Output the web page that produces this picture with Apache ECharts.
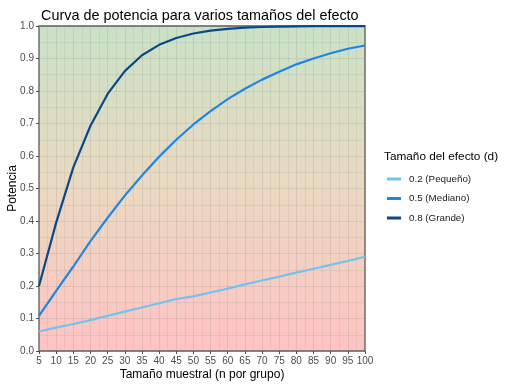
<!DOCTYPE html>
<html>
<head>
<meta charset="utf-8">
<script src="https://cdn.jsdelivr.net/npm/echarts@6/dist/echarts.min.js"></script>
<style>html,body{margin:0;padding:0;background:#fff}#c{width:516px;height:386px}</style>
</head>
<body>
<div id="c"></div>
<script>
const nValues = [5,10,15,20,25,30,35,40,45,50,55,60,65,70,75,80,85,90,95,100];
const powerSmall  = [0.060,0.072,0.083,0.095,0.108,0.121,0.134,0.147,0.160,0.168,0.180,0.192,0.205,0.217,0.229,0.241,0.253,0.265,0.277,0.290];
const powerMedium = [0.108,0.185,0.260,0.338,0.410,0.478,0.540,0.598,0.650,0.697,0.738,0.775,0.807,0.835,0.859,0.882,0.900,0.916,0.930,0.940];
const powerLarge  = [0.200,0.395,0.565,0.693,0.791,0.861,0.910,0.942,0.963,0.977,0.986,0.991,0.995,0.997,0.998,0.999,0.9994,0.9997,0.9998,0.9999];
const seriesNames = ['0.2 (Pequeño)','0.5 (Mediano)','0.8 (Grande)'];
const seriesColors = ['#74c3ef','#1e86e6','#0b4888'];
const yTicks = [0,0.1,0.2,0.3,0.4,0.5,0.6,0.7,0.8,0.9,1.0];

const chart = echarts.init(document.getElementById('c'), null, {renderer:'canvas'});
const pair = arr => nValues.map((n,i)=>[n,arr[i]]);
const allData = [powerSmall, powerMedium, powerLarge];
const fontFam = 'Liberation Sans, Arial, sans-serif';

chart.setOption({
  animation:false,
  backgroundColor:'#ffffff',
  title:{
    text:'Curva de potencia para varios tamaños del efecto',
    left:36, top:4,
    textStyle:{fontFamily:fontFam,fontSize:14.4,fontWeight:'normal',color:'#000'}
  },
  grid:{
    left:39, top:26, width:326, height:325,
    outerBoundsMode:'none', containLabel:false,
    show:true,
    borderColor:'#595959', borderWidth:1.3,
    backgroundColor:{type:'linear',x:0,y:0,x2:0,y2:1,colorStops:[
      {offset:0,color:'#c9e2c7'},
      {offset:0.5,color:'#ead9c1'},
      {offset:1,color:'#ffc3c3'}
    ]}
  },
  legend:{
    orient:'vertical',
    left:382, top:169,
    itemWidth:14, itemHeight:3, itemGap:9.5,
    icon:'rect',
    data:seriesNames,
    textStyle:{fontFamily:fontFam,fontSize:9.8,color:'#1a1a1a',padding:[0,0,0,3]}
  },
  graphic:[{
    type:'text', left:384, top:151,
    style:{text:'Tamaño del efecto (d)',fontFamily:fontFam,fontSize:11.8,fill:'#000'}
  }],
  xAxis:{
    type:'value', min:5, max:100, interval:5,
    name:'Tamaño muestral (n por grupo)', nameLocation:'middle', nameGap:18,
    nameMoveOverlap:false,
    nameTextStyle:{fontFamily:fontFam,fontSize:12,color:'#000'},
    axisLine:{show:false},
    axisTick:{show:true,length:3,lineStyle:{color:'#4d4d4d'}},
    axisLabel:{fontFamily:fontFam,fontSize:10,color:'#4d4d4d',margin:5},
    splitLine:{show:true,lineStyle:{color:'rgba(140,140,140,0.22)',width:1}},
    minorTick:{show:false,splitNumber:2},
    minorSplitLine:{show:true,lineStyle:{color:'rgba(140,140,140,0.16)',width:1}}
  },
  yAxis:{
    type:'value', min:0, max:1, interval:0.1,
    name:'Potencia', nameLocation:'middle', nameGap:20,
    nameMoveOverlap:false,
    nameTextStyle:{fontFamily:fontFam,fontSize:12,color:'#000'},
    axisLine:{show:false},
    axisTick:{show:true,length:3,lineStyle:{color:'#4d4d4d'}},
    axisLabel:{fontFamily:fontFam,fontSize:10,color:'#4d4d4d',margin:5,formatter:v=>v.toFixed(1)},
    splitLine:{show:true,lineStyle:{color:'rgba(140,140,140,0.22)',width:1}},
    minorTick:{show:false,splitNumber:2},
    minorSplitLine:{show:true,lineStyle:{color:'rgba(140,140,140,0.16)',width:1}}
  },
  series: seriesNames.map((name,i)=>({
    name:name, type:'line', data:pair(allData[i]),
    showSymbol:false, symbol:'none',
    lineStyle:{width:2.2,color:seriesColors[i]},
    itemStyle:{color:seriesColors[i]},
    z:3+i
  }))
});
</script>
</body>
</html>
